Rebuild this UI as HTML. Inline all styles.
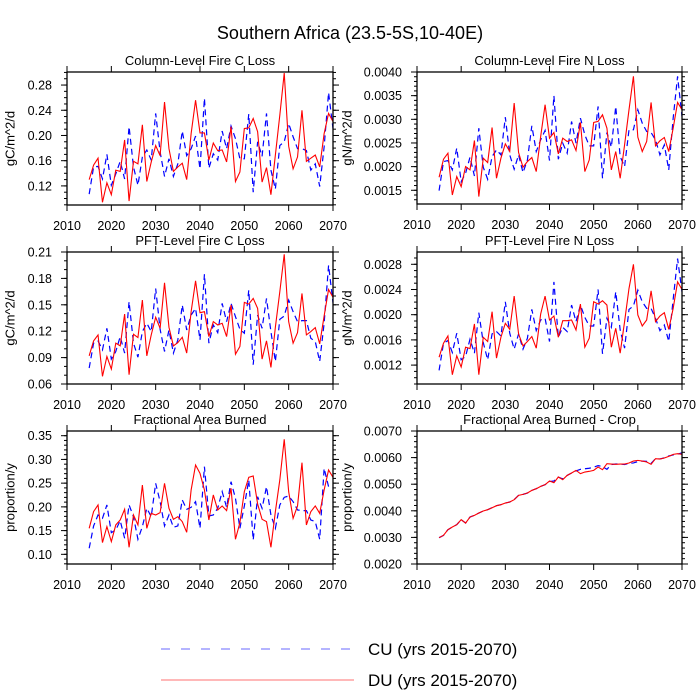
<!DOCTYPE html>
<html><head><meta charset="utf-8"><style>
html,body{margin:0;padding:0;background:#fff;}
svg{display:block;font-family:"Liberation Sans",Arial,sans-serif;}
</style></head><body>
<svg id="chart" width="700" height="700" viewBox="0 0 700 700">
<text x="350" y="39" font-size="18" text-anchor="middle">Southern Africa (23.5-5S,10-40E)</text>
<g>
<line x1="161" y1="649" x2="354" y2="649" stroke="#6a6aff" stroke-width="1" stroke-dasharray="9,11"/>
<text x="368" y="655" font-size="17">CU (yrs 2015-2070)</text>
<line x1="161" y1="680" x2="354" y2="680" stroke="#ff7070" stroke-width="1"/>
<text x="368" y="686" font-size="17">DU (yrs 2015-2070)</text>
</g>
</svg>
<script>
const years = [2015,2016,2017,2018,2019,2020,2021,2022,2023,2024,2025,2026,2027,2028,2029,2030,2031,2032,2033,2034,2035,2036,2037,2038,2039,2040,2041,2042,2043,2044,2045,2046,2047,2048,2049,2050,2051,2052,2053,2054,2055,2056,2057,2058,2059,2060,2061,2062,2063,2064,2065,2066,2067,2068,2069,2070];
const xTicks = [2010,2020,2030,2040,2050,2060,2070];

const colCRed = [0.130,0.153,0.164,0.094,0.125,0.106,0.145,0.143,0.193,0.096,0.159,0.155,0.217,0.127,0.158,0.184,0.168,0.253,0.179,0.143,0.150,0.156,0.130,0.203,0.256,0.204,0.204,0.161,0.188,0.176,0.177,0.158,0.214,0.127,0.142,0.211,0.212,0.227,0.206,0.126,0.149,0.106,0.169,0.232,0.299,0.183,0.147,0.166,0.240,0.159,0.164,0.169,0.150,0.203,0.235,0.222];
const colCBlue = [0.107,0.150,0.151,0.131,0.170,0.121,0.139,0.159,0.131,0.214,0.150,0.121,0.166,0.177,0.161,0.235,0.174,0.135,0.163,0.135,0.155,0.207,0.168,0.179,0.199,0.147,0.259,0.148,0.171,0.161,0.207,0.179,0.215,0.195,0.163,0.163,0.234,0.110,0.190,0.167,0.235,0.145,0.115,0.184,0.190,0.219,0.198,0.179,0.179,0.176,0.145,0.155,0.119,0.182,0.268,0.211];
const colCTicks = [0.12,0.16,0.20,0.24,0.28];
const colCTickLabels = ["0.12","0.16","0.20","0.24","0.28"];

const colNRed = [0.001775,0.002157,0.002284,0.001401,0.001789,0.001578,0.002001,0.001931,0.002552,0.001366,0.002178,0.002086,0.002827,0.001754,0.002178,0.002481,0.002319,0.003343,0.002298,0.001987,0.002107,0.002192,0.001895,0.002637,0.003308,0.002601,0.002721,0.002270,0.002601,0.002531,0.002566,0.002340,0.002933,0.001895,0.002142,0.002933,0.002955,0.003096,0.002813,0.001931,0.002319,0.001754,0.002460,0.003202,0.003908,0.002623,0.002319,0.002531,0.003357,0.002439,0.002545,0.002616,0.002319,0.002813,0.003357,0.003202];
const colNBlue = [0.001493,0.002107,0.002128,0.001931,0.002390,0.001683,0.001860,0.002199,0.001803,0.002813,0.001987,0.001733,0.002213,0.002354,0.002248,0.003046,0.002248,0.001945,0.002248,0.001874,0.002142,0.002863,0.002319,0.002566,0.002764,0.002128,0.003498,0.002157,0.002496,0.002284,0.002955,0.002496,0.003025,0.002672,0.002439,0.002439,0.003272,0.001754,0.002721,0.002411,0.003272,0.002213,0.002001,0.002778,0.002778,0.003202,0.002919,0.002743,0.002721,0.002566,0.002248,0.002460,0.001931,0.003025,0.003908,0.003060];
const colNTicks = [0.0015,0.0020,0.0025,0.0030,0.0035,0.0040];
const colNTickLabels = ["0.0015","0.0020","0.0025","0.0030","0.0035","0.0040"];

const pftCRed = [0.0920,0.1090,0.1158,0.0687,0.0913,0.0770,0.1064,0.1033,0.1395,0.0706,0.1165,0.1128,0.1554,0.0920,0.1158,0.1358,0.1233,0.1750,0.1245,0.1033,0.1071,0.1131,0.0951,0.1422,0.1772,0.1410,0.1422,0.1139,0.1309,0.1271,0.1290,0.1139,0.1497,0.0939,0.1026,0.1527,0.1508,0.1572,0.1459,0.0883,0.1090,0.0788,0.1245,0.1648,0.2074,0.1309,0.1064,0.1184,0.1629,0.1158,0.1196,0.1241,0.1056,0.1373,0.1674,0.1584];
const pftCBlue = [0.0781,0.1064,0.1090,0.0988,0.1233,0.0883,0.0969,0.1139,0.0951,0.1535,0.1064,0.0905,0.1196,0.1290,0.1196,0.1685,0.1222,0.0969,0.1214,0.0951,0.1101,0.1497,0.1214,0.1384,0.1459,0.1101,0.1848,0.1064,0.1271,0.1184,0.1516,0.1309,0.1516,0.1365,0.1222,0.1177,0.1667,0.0819,0.1384,0.1233,0.1572,0.1196,0.0856,0.1335,0.1373,0.1554,0.1422,0.1309,0.1320,0.1320,0.1120,0.1082,0.0856,0.1290,0.1949,0.1523];
const pftCTicks = [0.06,0.09,0.12,0.15,0.18,0.21];
const pftCTickLabels = ["0.06","0.09","0.12","0.15","0.18","0.21"];

const pftNRed = [0.001326,0.001547,0.001663,0.001047,0.001347,0.001169,0.001484,0.001463,0.001853,0.001047,0.001642,0.001574,0.002047,0.001311,0.001642,0.001863,0.001768,0.002295,0.001695,0.001505,0.001574,0.001653,0.001469,0.002011,0.002295,0.001916,0.001979,0.001642,0.001905,0.001905,0.001916,0.001758,0.002169,0.001484,0.001626,0.002205,0.002169,0.002221,0.002153,0.001484,0.001784,0.001390,0.001890,0.002416,0.002800,0.001995,0.001821,0.001916,0.002379,0.001890,0.001979,0.002032,0.001768,0.002100,0.002521,0.002400];
const pftNBlue = [0.001116,0.001547,0.001590,0.001400,0.001705,0.001284,0.001337,0.001611,0.001390,0.002032,0.001558,0.001284,0.001695,0.001732,0.001663,0.002205,0.001705,0.001453,0.001695,0.001453,0.001626,0.002084,0.001747,0.001916,0.001942,0.001574,0.002521,0.001642,0.001800,0.001732,0.002153,0.001890,0.002153,0.001958,0.001821,0.001821,0.002400,0.001379,0.001942,0.001800,0.002363,0.001758,0.001469,0.002084,0.002137,0.002390,0.002205,0.002100,0.002100,0.001942,0.001747,0.001837,0.001574,0.002242,0.002890,0.002363];
const pftNTicks = [0.0012,0.0016,0.0020,0.0024,0.0028];
const pftNTickLabels = ["0.0012","0.0016","0.0020","0.0024","0.0028"];

const areaRed = [0.1548,0.1900,0.2040,0.1247,0.1584,0.1268,0.1619,0.1724,0.1949,0.1148,0.1829,0.1619,0.2461,0.1548,0.1864,0.1829,0.1878,0.2496,0.1970,0.1738,0.1794,0.1689,0.1464,0.2356,0.2882,0.2707,0.2356,0.1724,0.2251,0.1935,0.2019,0.1921,0.2391,0.1317,0.1668,0.2321,0.2623,0.2651,0.2061,0.1738,0.1689,0.1148,0.1900,0.2566,0.3423,0.2321,0.1759,0.2019,0.2931,0.1619,0.1900,0.2019,0.1864,0.2356,0.2777,0.2623];
const areaBlue = [0.1127,0.1598,0.1829,0.1759,0.2040,0.1457,0.1513,0.1710,0.1338,0.2040,0.1794,0.1317,0.1584,0.1970,0.1794,0.2496,0.2110,0.1598,0.1829,0.1570,0.1598,0.2145,0.1949,0.1991,0.2110,0.1548,0.2847,0.1808,0.1829,0.1970,0.2321,0.1991,0.2531,0.2180,0.1548,0.2019,0.2566,0.1303,0.2215,0.1970,0.2426,0.1829,0.1548,0.2040,0.2201,0.2229,0.2110,0.1935,0.1921,0.1921,0.1724,0.1689,0.1317,0.2812,0.2426,0.2405];
const areaTicks = [0.10,0.15,0.20,0.25,0.30,0.35];
const areaTickLabels = ["0.10","0.15","0.20","0.25","0.30","0.35"];

const cropRed = [0.002989,0.003077,0.003290,0.003390,0.003478,0.003666,0.003540,0.003766,0.003829,0.003916,0.003992,0.004042,0.004117,0.004192,0.004230,0.004292,0.004330,0.004418,0.004581,0.004618,0.004668,0.004768,0.004831,0.004919,0.004982,0.005119,0.005057,0.005270,0.005169,0.005332,0.005420,0.005520,0.005395,0.005458,0.005483,0.005520,0.005646,0.005545,0.005771,0.005758,0.005746,0.005758,0.005758,0.005796,0.005871,0.005896,0.005871,0.005834,0.005746,0.005959,0.005946,0.005984,0.006047,0.006122,0.006147,0.006122];
const cropBlue = [0.002989,0.003077,0.003290,0.003390,0.003478,0.003666,0.003540,0.003766,0.003829,0.003916,0.003992,0.004042,0.004117,0.004192,0.004230,0.004292,0.004330,0.004418,0.004581,0.004618,0.004668,0.004768,0.004831,0.004919,0.004982,0.005100,0.005120,0.005270,0.005200,0.005330,0.005420,0.005500,0.005560,0.005580,0.005600,0.005640,0.005700,0.005660,0.005560,0.005740,0.005760,0.005760,0.005740,0.005780,0.005800,0.005850,0.005870,0.005860,0.005780,0.005960,0.005950,0.005990,0.006060,0.006100,0.006130,0.006180];
const cropTicks = [0.0020,0.0030,0.0040,0.0050,0.0060,0.0070];
const cropTickLabels = ["0.0020","0.0030","0.0040","0.0050","0.0060","0.0070"];

const NS = "http://www.w3.org/2000/svg";
const svg = document.getElementById('chart');
function mk(tag, attrs, parent){
  const e = document.createElementNS(NS, tag);
  for (const k in attrs) e.setAttribute(k, attrs[k]);
  parent.appendChild(e);
  return e;
}

const panels = [
  {key:'col-c', title:'Column-Level Fire C Loss', ylab:'gC/m^2/d', x0:67, x1:333, y0:72, y1:205, vmin:0.0897, vmax:0.3007, minor:0.01, red:colCRed, blue:colCBlue, ticks:colCTicks, labels:colCTickLabels, ytx:10},
  {key:'col-n', title:'Column-Level Fire N Loss', ylab:'gN/m^2/d', x0:417, x1:682, y0:72, y1:204, vmin:0.00121, vmax:0.0040, minor:0.0001, red:colNRed, blue:colNBlue, ticks:colNTicks, labels:colNTickLabels, ytx:347},
  {key:'pft-c', title:'PFT-Level Fire C Loss', ylab:'gC/m^2/d', x0:67, x1:333, y0:252, y1:384, vmin:0.06, vmax:0.21, minor:0.01, red:pftCRed, blue:pftCBlue, ticks:pftCTicks, labels:pftCTickLabels, ytx:10},
  {key:'pft-n', title:'PFT-Level Fire N Loss', ylab:'gN/m^2/d', x0:417, x1:682, y0:252, y1:384, vmin:0.0009, vmax:0.002995, minor:0.0001, red:pftNRed, blue:pftNBlue, ticks:pftNTicks, labels:pftNTickLabels, ytx:347},
  {key:'area', title:'Fractional Area Burned', ylab:'proportion/y', x0:67, x1:333, y0:431, y1:564, vmin:0.0796, vmax:0.3599, minor:0.01, red:areaRed, blue:areaBlue, ticks:areaTicks, labels:areaTickLabels, ytx:10},
  {key:'crop', title:'Fractional Area Burned - Crop', ylab:'proportion/y', x0:417, x1:682, y0:431, y1:564, vmin:0.0020, vmax:0.0070, minor:0.0002, red:cropRed, blue:cropBlue, ticks:cropTicks, labels:cropTickLabels, ytx:347}
];

panels.forEach(p => {
  const g = mk('g', {}, svg);
  
  
  const xs = y => p.x0 + (y - 2010) / 60 * (p.x1 - p.x0);
  const ys = v => p.y1 - (v - p.vmin) / (p.vmax - p.vmin) * (p.y1 - p.y0);

  const t = mk('text', {x:(p.x0+p.x1)/2, y:p.y0-7, 'font-size':13, 'text-anchor':'middle'}, g);
  t.textContent = p.title;
  
  

  const yl = mk('text', {x:p.ytx, y:(p.y0+p.y1)/2, 'font-size':13, 'text-anchor':'middle', 'dominant-baseline':'central', transform:'rotate(-90 '+p.ytx+' '+((p.y0+p.y1)/2)+')'}, g);
  yl.textContent = p.ylab;
  
  

  // minor y ticks
  const start = Math.ceil(p.vmin / p.minor - 1e-6);
  for (let k = start; k * p.minor <= p.vmax + 1e-9; k++) {
    const yy = ys(k * p.minor);
    mk('line', {x1:p.x0-3, x2:p.x0, y1:yy, y2:yy, stroke:'#000', 'stroke-width':1}, g);
    mk('line', {x1:p.x1, x2:p.x1+3, y1:yy, y2:yy, stroke:'#000', 'stroke-width':1}, g);
  }
  p.ticks.forEach((v, i) => {
    const yy = ys(v);
    mk('line', {x1:p.x0-6, x2:p.x0, y1:yy, y2:yy, stroke:'#000', 'stroke-width':1}, g);
    mk('line', {x1:p.x1, x2:p.x1+6, y1:yy, y2:yy, stroke:'#000', 'stroke-width':1}, g);
    const lt = mk('text', {x:p.x0-15, y:yy+4.5, 'font-size':12.5, 'text-anchor':'end'}, g);
    lt.textContent = p.labels[i];
    
    
  });
  xTicks.forEach(yr => {
    const xx = xs(yr);
    mk('line', {x1:xx, x2:xx, y1:p.y1, y2:p.y1+6, stroke:'#000', 'stroke-width':1}, g);
    mk('line', {x1:xx, x2:xx, y1:p.y0-6, y2:p.y0, stroke:'#000', 'stroke-width':1}, g);
    const lt = mk('text', {x:xx, y:p.y1+25, 'font-size':12.5, 'text-anchor':'middle'}, g);
    lt.textContent = String(yr);
    
    
  });

  const clip = mk('clipPath', {id:'clip-'+p.key}, g);
  mk('rect', {x:p.x0, y:p.y0, width:p.x1-p.x0, height:p.y1-p.y0}, clip);

  const dBlue = p.blue.map((v,i) => (i?'L':'M') + xs(years[i]).toFixed(2) + ' ' + ys(v).toFixed(2)).join(' ');
  const bl = mk('path', {d:dBlue, fill:'none', stroke:'#0000ff', 'stroke-width':1.2, 'stroke-dasharray':'6,4', 'clip-path':'url(#clip-'+p.key+')'}, g);
  
  

  const dRed = p.red.map((v,i) => (i?'L':'M') + xs(years[i]).toFixed(2) + ' ' + ys(v).toFixed(2)).join(' ');
  const rl = mk('path', {d:dRed, fill:'none', stroke:'#ff0000', 'stroke-width':1.1, 'clip-path':'url(#clip-'+p.key+')'}, g);
  
  

  const fr = mk('rect', {x:p.x0, y:p.y0, width:p.x1-p.x0, height:p.y1-p.y0, fill:'none', stroke:'#000', 'stroke-width':1.3}, g);
  
  
});
</script>
</body></html>
